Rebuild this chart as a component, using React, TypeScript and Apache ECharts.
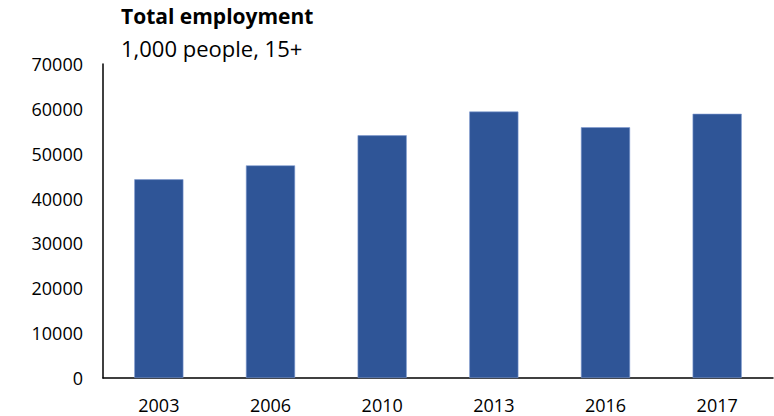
import React, { useEffect, useRef } from "react";
import * as echarts from "echarts";

const categories = ["2003", "2006", "2010", "2013", "2016", "2017"];
const employment = [44300, 47400, 54100, 59400, 55900, 58900];
const titleText = "Total employment";
const subtitleText = "1,000 people, 15+";

const FONT = "'Open Sans', 'Liberation Sans', sans-serif";

export default function App() {
  const ref = useRef<HTMLDivElement>(null);
  useEffect(() => {
    if (!ref.current) return;
    const chart = echarts.init(ref.current, null, { renderer: "svg" });
    chart.setOption({
      animation: false,
      backgroundColor: "#ffffff",
      title: [
        {
          text: titleText,
          left: 121,
          top: 5,
          padding: 0,
          textStyle: { fontFamily: FONT, fontSize: 21, fontWeight: "bold", color: "#000" },
        },
        {
          text: subtitleText,
          left: 121,
          top: 37,
          padding: 0,
          textStyle: { fontFamily: FONT, fontSize: 22, fontWeight: "normal", color: "#000" },
        },
      ],
      grid: { left: 103, right: 1, top: 64, bottom: 38, containLabel: false },
      xAxis: {
        type: "category",
        data: categories,
        axisLine: { show: true, lineStyle: { color: "#000", width: 1.5 } },
        axisTick: { show: false },
        axisLabel: { fontFamily: FONT, fontSize: 18, color: "#000", margin: 18 },
        splitLine: { show: false },
      },
      yAxis: {
        type: "value",
        min: 0,
        max: 70000,
        interval: 10000,
        axisLine: { show: true, lineStyle: { color: "#000", width: 1.5 } },
        axisTick: { show: false },
        axisLabel: {
          fontFamily: FONT,
          fontSize: 18,
          color: "#000",
          margin: 20,
          formatter: (v: number) => String(v),
        },
        splitLine: { show: false },
      },
      series: [
        {
          type: "bar",
          data: employment,
          barWidth: "44%",
          itemStyle: { color: "#2F5597", borderColor: "#7f9bd0", borderWidth: 0.6 },
        },
      ],
    });
    return () => chart.dispose();
  }, []);
  return (
    <div
      ref={ref}
      style={{ position: "fixed", left: 0, top: 0, width: 774, height: 416 }}
    />
  );
}
